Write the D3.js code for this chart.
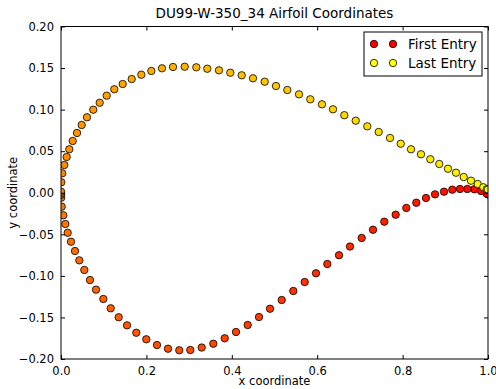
<!DOCTYPE html>
<html>
<head>
<meta charset="utf-8">
<style>
  body { margin: 0; background: #fff; }
  text { font-family: "DejaVu Sans", sans-serif; fill: #000; }
</style>
</head>
<body>
<svg width="496" height="389"></svg>
<script src="https://d3js.org/d3.v7.min.js"></script>
<script>
// airfoil points in file order: trailing edge -> lower surface -> leading edge -> upper surface -> trailing edge
var xCoords = [
  1.0000, 0.9970, 0.9836, 0.9679, 0.9515, 0.9344, 0.9164, 0.8970, 0.8759, 0.8548,
  0.8321, 0.8087, 0.7838, 0.7571, 0.7307, 0.7042, 0.6768, 0.6511, 0.6237, 0.5972,
  0.5707, 0.5440, 0.5169, 0.4895, 0.4637, 0.4372, 0.4098, 0.3834, 0.3567, 0.3295,
  0.3028, 0.2770, 0.2506, 0.2248, 0.1998, 0.1763, 0.1546, 0.1351, 0.1164, 0.0991,
  0.0820, 0.0679, 0.0546, 0.0429, 0.0328, 0.0234, 0.0157, 0.0101, 0.0054, 0.0016,
  0.0005, 0.0001, 0.0000,
  0.0000, 0.0007, 0.0030, 0.0077, 0.0133, 0.0194, 0.0274, 0.0375, 0.0485, 0.0609,
  0.0756, 0.0906, 0.1070, 0.1248, 0.1445, 0.1656, 0.1881, 0.2115, 0.2365, 0.2623,
  0.2897, 0.3169, 0.3426, 0.3700, 0.3965, 0.4232, 0.4496, 0.4770, 0.5035, 0.5300,
  0.5574, 0.5838, 0.6112, 0.6370, 0.6635, 0.6902, 0.7173, 0.7440, 0.7705, 0.7956,
  0.8197, 0.8431, 0.8649, 0.8859, 0.9063, 0.9251, 0.9431, 0.9602, 0.9759, 0.9890,
  0.9970, 1.0000
];
var yCoords = [
  -0.0021, -0.0011, 0.0021, 0.0042, 0.0045, 0.0045, 0.0037, 0.0013, -0.0019, -0.0063,
  -0.0120, -0.0183, -0.0264, -0.0348, -0.0445, -0.0544, -0.0647, -0.0752, -0.0857, -0.0969,
  -0.1074, -0.1182, -0.1290, -0.1395, -0.1495, -0.1591, -0.1675, -0.1751, -0.1816, -0.1862,
  -0.1892, -0.1895, -0.1876, -0.1832, -0.1763, -0.1684, -0.1595, -0.1498, -0.1390, -0.1278,
  -0.1166, -0.1050, -0.0929, -0.0813, -0.0701, -0.0589, -0.0481, -0.0376, -0.0271, -0.0168,
  -0.0060, -0.0027, -0.0009,
  0.0013, 0.0126, 0.0234, 0.0334, 0.0430, 0.0523, 0.0623, 0.0719, 0.0815, 0.0908,
  0.0999, 0.1083, 0.1168, 0.1245, 0.1308, 0.1368, 0.1420, 0.1465, 0.1497, 0.1513,
  0.1516, 0.1509, 0.1492, 0.1473, 0.1444, 0.1413, 0.1377, 0.1336, 0.1284, 0.1236,
  0.1184, 0.1124, 0.1064, 0.1004, 0.0933, 0.0867, 0.0799, 0.0731, 0.0659, 0.0590,
  0.0523, 0.0463, 0.0403, 0.0346, 0.0289, 0.0241, 0.0189, 0.0145, 0.0105, 0.0066,
  0.0042, 0.0039
];
var xTicks = [0.0, 0.2, 0.4, 0.6, 0.8, 1.0];
var yTicks = [-0.20, -0.15, -0.10, -0.05, 0.00, 0.05, 0.10, 0.15, 0.20];
var legendLabels = ["First Entry", "Last Entry"];

var margin = {left: 61, top: 26.5, right: 8, bottom: 30};
var svg = d3.select("svg");
var width = 496 - margin.left - margin.right;
var height = 389 - margin.top - margin.bottom;

var x = d3.scaleLinear().domain([0, 1]).range([0, width]);
var y = d3.scaleLinear().domain([-0.2, 0.2]).range([height, 0]);
var n = xCoords.length;
var color = function(i){ return d3.rgb(255, Math.round(255 * i / (n - 1)), 0).toString(); };

var g = svg.append("g")
  .attr("transform", "translate(" + margin.left + "," + margin.top + ")");

svg.append("defs").append("clipPath").attr("id", "clip")
  .append("rect").attr("width", width).attr("height", height);

g.append("g").attr("clip-path", "url(#clip)")
  .selectAll("circle")
  .data(d3.range(n))
  .enter().append("circle")
  .attr("cx", function(i){ return x(xCoords[i]); })
  .attr("cy", function(i){ return y(yCoords[i]); })
  .attr("r", 3.7)
  .attr("fill", function(i){ return color(i); })
  .attr("stroke", "#000")
  .attr("stroke-width", 0.8);

// ticks pointing inward on all four sides
function styleAxis(sel){
  sel.select(".domain").remove();
  sel.selectAll(".tick line").attr("stroke", "#000");
  sel.selectAll(".tick text").style("font-size", "11.5px").style("font-family", "DejaVu Sans");
}
g.append("g").attr("transform", "translate(0," + height + ")")
  .call(d3.axisBottom(x).tickValues(xTicks).tickFormat(d3.format(".1f")).tickSizeInner(-4).tickPadding(8))
  .call(styleAxis);
g.append("g")
  .call(d3.axisTop(x).tickValues(xTicks).tickFormat("").tickSizeInner(-4))
  .call(styleAxis);
g.append("g")
  .call(d3.axisLeft(y).tickValues(yTicks).tickFormat(d3.format(".2f")).tickSizeInner(-4).tickPadding(7))
  .call(styleAxis);
g.append("g").attr("transform", "translate(" + width + ",0)")
  .call(d3.axisRight(y).tickValues(yTicks).tickFormat("").tickSizeInner(-4))
  .call(styleAxis);

g.append("rect")
  .attr("width", width).attr("height", height)
  .attr("fill", "none").attr("stroke", "#000").attr("stroke-width", 1);

svg.append("text")
  .attr("x", margin.left + width / 2).attr("y", 18)
  .attr("text-anchor", "middle").style("font-size", "13.5px")
  .text("DU99-W-350_34 Airfoil Coordinates");
svg.append("text")
  .attr("x", margin.left + width / 2).attr("y", 385)
  .attr("text-anchor", "middle").style("font-size", "11.5px")
  .text("x coordinate");
svg.append("text")
  .attr("transform", "translate(17," + (margin.top + height / 2) + ") rotate(-90)")
  .attr("text-anchor", "middle").style("font-size", "11.5px")
  .text("y coordinate");

// legend
var lg = svg.append("g").attr("transform", "translate(364,32)");
lg.append("rect").attr("width", 118).attr("height", 44)
  .attr("fill", "#fff").attr("stroke", "#000").attr("stroke-width", 1);
var legendColors = [color(0), color(n - 1)];
legendLabels.forEach(function(label, k){
  var row = lg.append("g").attr("transform", "translate(0," + (12 + k * 19) + ")");
  [10, 29].forEach(function(cx){
    row.append("circle").attr("cx", cx).attr("cy", 0).attr("r", 3.7)
      .attr("fill", legendColors[k]).attr("stroke", "#000").attr("stroke-width", 0.8);
  });
  row.append("text").attr("x", 44).attr("y", 5).style("font-size", "13.5px").text(label);
});
</script>
</body>
</html>
